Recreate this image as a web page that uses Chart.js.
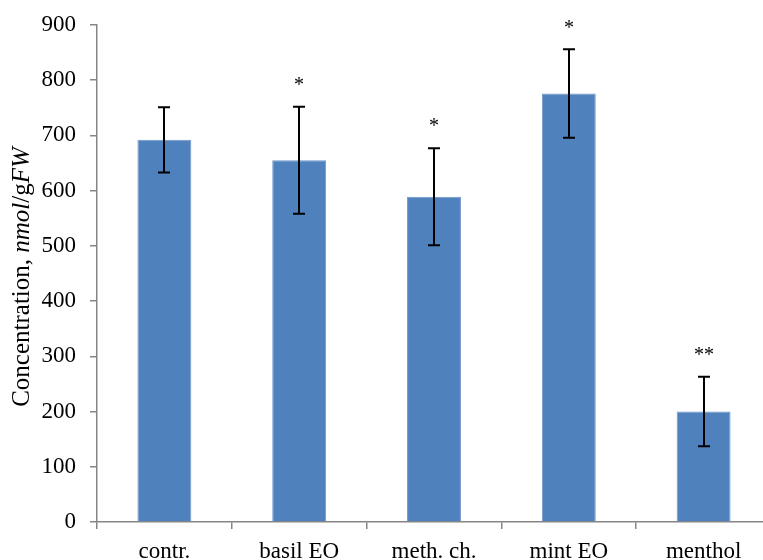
<!DOCTYPE html>
<html>
<head>
<meta charset="utf-8">
<script src="https://cdn.jsdelivr.net/npm/chart.js@4/dist/chart.umd.min.js"></script>
<style>
  html, body { margin: 0; padding: 0; background: #fff; overflow: hidden; }
  canvas { display: block; }
</style>
</head>
<body>
<canvas id="concChart" width="775" height="560"></canvas>
<script>
// Data
const categories = ['contr.', 'basil EO', 'meth. ch.', 'mint EO', 'menthol'];
const concentration = [692, 655, 589, 776, 200];
const errors = [59, 97, 88, 80, 63];
const marks = ['', '*', '*', '*', '**'];

const serif = '"Liberation Serif", "Times New Roman", serif';

// error bars + significance stars
const errorBarPlugin = {
  id: 'errorBars',
  afterDatasetsDraw(chart) {
    const ctx = chart.ctx;
    const meta = chart.getDatasetMeta(0);
    const y = chart.scales.y;
    ctx.save();
    ctx.strokeStyle = '#000';
    ctx.lineWidth = 2;
    meta.data.forEach((bar, i) => {
      const top = y.getPixelForValue(concentration[i] + errors[i]);
      const bot = y.getPixelForValue(concentration[i] - errors[i]);
      const x = Math.round(bar.x);
      ctx.beginPath();
      ctx.moveTo(x, top); ctx.lineTo(x, bot);
      ctx.moveTo(x - 6, top); ctx.lineTo(x + 6, top);
      ctx.moveTo(x - 6, bot); ctx.lineTo(x + 6, bot);
      ctx.stroke();
      if (marks[i]) {
        ctx.fillStyle = '#000';
        ctx.font = '20px ' + serif;
        ctx.textAlign = 'center';
        ctx.textBaseline = 'middle';
        ctx.fillText(marks[i], x, top - 21);
      }
    });
    ctx.restore();
  }
};

// y-axis title with italic parts
const yTitlePlugin = {
  id: 'yTitle',
  afterDraw(chart) {
    const ctx = chart.ctx;
    const parts = [
      ['Concentration, ', false],
      ['nmol', true],
      ['/g', false],
      ['FW', true]
    ];
    ctx.save();
    let total = 0;
    parts.forEach(p => {
      ctx.font = (p[1] ? 'italic ' : '') + '25px ' + serif;
      total += ctx.measureText(p[0]).width;
    });
    ctx.translate(22, 277);
    ctx.rotate(-Math.PI / 2);
    ctx.fillStyle = '#000';
    ctx.textBaseline = 'middle';
    ctx.textAlign = 'left';
    let x = -total / 2;
    parts.forEach(p => {
      ctx.font = (p[1] ? 'italic ' : '') + '25px ' + serif;
      ctx.fillText(p[0], x, 0);
      x += ctx.measureText(p[0]).width;
    });
    ctx.restore();
  }
};

new Chart(document.getElementById('concChart').getContext('2d'), {
  type: 'bar',
  data: {
    labels: categories,
    datasets: [{
      data: concentration,
      backgroundColor: '#4F81BD',
      borderColor: '#6F97C9',
      borderWidth: 1,
      barPercentage: 0.8,
      categoryPercentage: 0.5
    }]
  },
  options: {
    responsive: false,
    animation: false,
    layout: { padding: { top: 25, right: 4, bottom: 0, left: 0 } },
    plugins: {
      legend: { display: false },
      tooltip: { enabled: false }
    },
    scales: {
      x: {
        offset: true,
        grid: {
          offset: true,
          drawOnChartArea: false,
          tickLength: 7,
          color: '#868686',
          lineWidth: 1.5
        },
        border: { color: '#868686', width: 1.5 },
        ticks: {
          color: '#000',
          font: { family: serif, size: 23 },
          padding: 9,
          maxRotation: 0
        },
        afterFit(scale) {
          scale.height = 38;
          scale.paddingLeft = 0;
          scale.paddingRight = 0;
        }
      },
      y: {
        min: 0,
        max: 900,
        grid: {
          drawOnChartArea: false,
          tickLength: 7,
          color: '#868686',
          lineWidth: 1.5
        },
        border: { color: '#868686', width: 1.5 },
        ticks: {
          stepSize: 100,
          color: '#000',
          font: { family: serif, size: 23 },
          padding: 14
        },
        afterFit(scale) {
          scale.width = 97;
          scale.paddingTop = 0;
          scale.paddingBottom = 0;
        }
      }
    }
  },
  plugins: [errorBarPlugin, yTitlePlugin]
});
</script>
</body>
</html>
